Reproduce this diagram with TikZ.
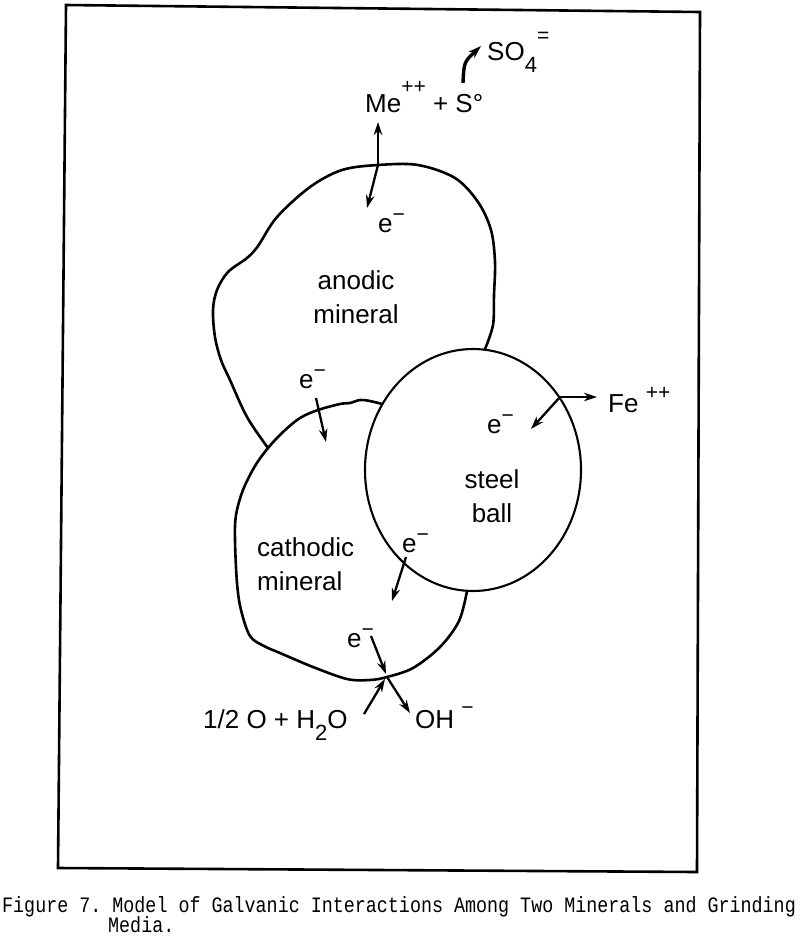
\documentclass[tikz,border=0pt]{standalone}
\usepackage{fontspec}
\setmainfont{Liberation Sans}
\newfontfamily\capfont[FakeStretch=0.835]{Liberation Mono}
\usetikzlibrary{arrows.meta}

\newcommand{\chg}[2][12pt]{\raisebox{#1}{\fontsize{21}{21}\selectfont #2}}
\newcommand{\idx}[1]{\raisebox{-12pt}{\fontsize{22}{22}\selectfont #1}}

\begin{document}
\begin{tikzpicture}[
    x=1pt, y=-1pt,
    lbl/.style={inner sep=0pt, anchor=base west, font=\fontsize{26}{34}\selectfont},
    figcap/.style={inner sep=0pt, anchor=base west, font=\capfont\frenchspacing\fontsize{22}{22}\selectfont},
    grain/.style={line width=2.6pt, line cap=round, line join=round},
    elec/.style={-{Stealth[length=13pt, width=8.5pt]}, line width=2.3pt},
    frame/.style={line width=2.6pt, line join=miter},
]
    \useasboundingbox (0,0) rectangle (800,938);
    \draw[frame] (66,5) -- (700,12) -- (697,872) -- (58,868) -- cycle;

    % grains
    \draw[grain] plot[smooth, tension=0.55] coordinates {(485,349) (493,325) (494,295) (495,262) (491,230) (478,202) (455,178) (418,165) (378,165) (342,170) (310,187) (277,217) (258,246) (247,258) (228,272) (217,290) (213,310) (215,337) (221,360) (230,380) (247,417) (268,448)};
    \draw[grain] plot[smooth, tension=0.55] coordinates {(382,404) (370,401) (360,400) (350,403) (340,404) (318,410) (300,418) (283,432) (268,448) (255,466) (243,490) (236,515) (235,540) (237,583) (241,610) (250,636) (264,646) (280,653) (313,667) (347,679) (370,680) (387,677) (413,668) (440,647) (459,621) (467,591)};
    \draw[line width=2.1pt] (473,470) ellipse [x radius=108, y radius=121];

    % labels
    \node[lbl] (me) at (365,112) {Me\chg[19pt]{++} + S°};
    \node[lbl] (so) at (487,60) {SO\idx{4}\chg[18pt]{=}};
    \node[lbl] (eTop) at (378,232) {e\chg[11pt]{−}};
    \node[lbl, anchor=center, align=center] (anodic) at (356,297) {anodic\\mineral};
    \node[lbl] (eAn) at (299,388) {e\chg[11pt]{−}};
    \node[lbl, anchor=center, align=center] (ball) at (492,496) {steel\\ball};
    \node[lbl] (eBall) at (487,433) {e\chg[11pt]{−}};
    \node[lbl] (fe) at (608,412) {Fe \chg[13pt]{++}};
    \node[lbl, anchor=west, align=left] (cathodic) at (257,564) {cathodic\\mineral};
    \node[lbl] (eSt) at (402,552) {e\chg[11pt]{−}};
    \node[lbl] (eBot) at (347,647) {e\chg[11pt]{−}};
    \node[lbl] (water) at (203,728) {1/2 O + H\idx{2}O};
    \node[lbl] (oh) at (415,728) {OH \chg[14pt]{−}};

    % electron and ion paths
    \coordinate (meFoot) at (378,165);
    \coordinate (meUp) at (378,122);
    \coordinate (meDown) at (367,208);
    \coordinate (soFoot) at (463,83);
    \coordinate (soTip) at (481,46);
    \coordinate (anTail) at (316,398);
    \coordinate (anHead) at (326,442);
    \coordinate (feFoot) at (560,397);
    \coordinate (feTip) at (597,397);
    \coordinate (ballTip) at (531,429);
    \coordinate (stTail) at (406,557);
    \coordinate (stHead) at (392,601);
    \coordinate (botTail) at (371,636);
    \coordinate (botFoot) at (387,677);
    \coordinate (ohTip) at (410,713);
    \coordinate (wTail) at (364,714);

    \draw[elec] (meFoot) -- (meUp);
    \draw[elec] (meFoot) -- (meDown);
    \draw[elec, line width=3.4pt] (soFoot) .. controls (464,62) .. (soTip);
    \draw[elec] (anTail) -- (anHead);
    \draw[elec] (feFoot) -- (feTip);
    \draw[elec] (feFoot) -- (ballTip);
    \draw[elec] (stTail) -- (stHead);
    \draw[elec] (botTail) -- ([shift={(-1,-3)}]botFoot);
    \draw[elec] (botFoot) -- (ohTip);
    \draw[elec] (wTail) -- ([shift={(-2,2)}]botFoot);

    \node[figcap] (fig) at (2,912) {Figure 7. Model of Galvanic Interactions Among Two Minerals and Grinding};
    \node[figcap] (figMore) at (108,932) {Media.};
\end{tikzpicture}
\end{document}
